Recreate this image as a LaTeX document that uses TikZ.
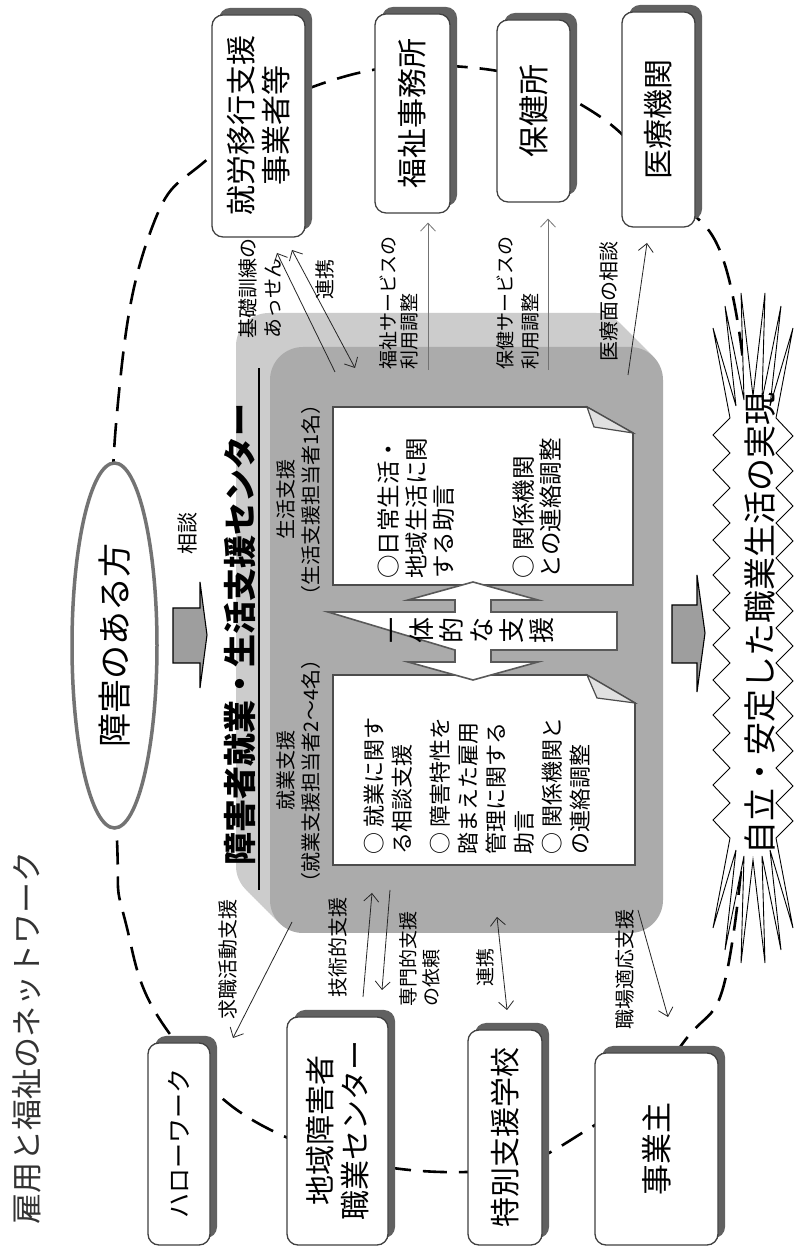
\documentclass[tikz,border=0pt]{standalone}
\usepackage{fontspec}
\setmainfont{Noto Sans CJK JP}
\usetikzlibrary{arrows.meta, shapes.geometric}

\tikzset{
  netbox/.style={draw=black!75, line width=1.3pt, fill=white, rounded corners=11pt, inner sep=0pt, align=center, font=\fontsize{30}{35}\selectfont},
  boxshade/.style={fill=black!62, rounded corners=11pt, inner sep=0pt},
  person/.style={ellipse, draw=black!55, line width=3.5pt, fill=white, inner sep=0pt, font=\fontsize{34}{34}\selectfont},
  ring/.style={line width=2.6pt, dash pattern=on 24pt off 12pt},
  face/.style={fill=black!33, rounded corners=33pt, inner sep=0pt},
  docbox/.style={draw=black!70, line width=1.6pt, fill=white},
  docflap/.style={draw=black!70, line width=1.2pt, fill=black!12},
  doctext/.style={inner sep=0pt, align=left},
  twinarrow/.style={draw=black!65, line width=1.6pt, fill=white},
  bigarrow/.style={draw=black, line width=1.1pt, fill=black!38},
  burst/.style={draw=black, line width=0.9pt, fill=white},
  link/.style={line width=0.8pt, draw=black!85, -{Straight Barb[length=8pt,width=15pt]}},
  twolink/.style={line width=0.8pt, draw=black!85, {Straight Barb[length=8pt,width=15pt]}-{Straight Barb[length=8pt,width=15pt]}},
  lbl/.style={inner sep=0pt, align=left, font=\fontsize{20}{25}\selectfont},
}

% box with drop shadow: [extra] name, position, width, height, text
\newcommand{\shadebox}[6][]{%
  \node[boxshade, minimum width=#4, minimum height=#5] at ([shift={(7,-7)}]#3) {};
  \node[netbox, minimum width=#4, minimum height=#5, #1] (#2) at (#3) {#6};
}

\begin{document}
\begin{tikzpicture}[x=1pt, y=1pt]
\fill[white] (0,0) rectangle (794,1247);
\begin{scope}[rotate=90, transform shape]
% ネットワークの輪
\draw[ring] plot[smooth cycle, tension=0.75] coordinates {(407,-117) (620,-113) (834,-117) (1014,-150) (1090,-210) (1162,-318) (1180,-465) (1140,-585) (1060,-665) (950,-733) (647,-750) (310,-733) (204,-683) (122,-595) (75,-467) (114,-277) (217,-167) (327,-125)};
\node[inner sep=0pt, text=black!80, font=\fontsize{31}{31}\selectfont] (nettitle) at (209,-27) {雇用と福祉のネットワーク};

% センター本体
\foreach \k in {17,...,1}
  \fill[black!20, rounded corners=33pt] (314+2*\k,-663+2*\k) rectangle (900+2*\k,-270+2*\k);
\node[face, minimum width=586pt, minimum height=393pt] (hub) at (607,-466.5) {};
\node[inner sep=0pt, font=\bfseries\fontsize{33}{33}\selectfont] (hubname) at (612,-240) {障害者就業・生活支援センター};
\draw[line width=2.6pt] (357,-259) -- (879,-259);
\node[lbl, align=center] (shugyolbl) at (476,-298.5) {就業支援\\（就業支援担当者2～4名）};
\node[lbl, align=center] (seikatsulbl) at (747,-298.5) {生活支援\\（生活支援担当者1名）};

% 就業支援
\draw[docbox] (382,-333) -- (572,-333) -- (572,-587) -- (544,-635) -- (382,-635) -- cycle;
\filldraw[docflap] (572,-587) -- (549,-597) -- (544,-635) -- cycle;
\node[doctext, anchor=north west, font=\fontsize{22}{28}\selectfont] (shugyo) at (392,-364) {○ 就業に関す\\る相談支援\\[10pt]○ 障害特性を\\踏まえた雇用\\管理に関する\\助言\\○ 関係機関と\\の連絡調整};
% 生活支援
\draw[docbox] (662,-333) -- (840,-333) -- (840,-587) -- (814,-633) -- (662,-633) -- cycle;
\filldraw[docflap] (840,-587) -- (820,-594) -- (814,-633) -- cycle;
\node[doctext, anchor=north west, font=\fontsize{23.5}{27.5}\selectfont] (seikatsu) at (668,-378) {○日常生活・\\地域生活に関\\する助言\\[52pt]○ 関係機関\\との連絡調整};

% 一体的な支援
\draw[twinarrow] (635,-328) -- (635,-455) -- (647,-455) -- (647,-408) -- (665,-473) -- (647,-538) -- (647,-491) -- (635,-491) -- (635,-617) -- (597,-617) -- (597,-491) -- (585,-491) -- (585,-538) -- (567,-473) -- (585,-408) -- (585,-455) -- (597,-455) -- cycle;
\node[inner sep=0pt, align=center, font=\fontsize{26}{30}\selectfont] (ittai) at (616,-472) {一\\体\\的\\な\\支\\援};

% 障害のある方
\node[person, minimum width=365pt, minimum height=85pt] (person) at (601.5,-114.5) {障害のある方};
\draw[bigarrow] (584,-173) -- (639,-173) -- (639,-200) -- (665,-200) -- (612,-207) -- (559,-200) -- (584,-200) -- cycle;
\node[lbl, font=\fontsize{21}{21}\selectfont] (sodan) at (713,-188) {相談};

% 周りの機関
\shadebox{shuro}{1121,-258.5}{222pt}{93pt}{就労移行支援\\事業者等}
\shadebox{fukushi}{1133.5,-412.5}{199pt}{75pt}{福祉事務所}
\shadebox[font=\fontsize{31}{31}\selectfont]{hoken}{1136,-533.5}{182pt}{73pt}{保健所}
\shadebox{iryo}{1127.5,-658.5}{215pt}{73pt}{医療機関}
\shadebox[font=\fontsize{25}{25}\selectfont]{hello}{103,-179}{202pt}{62pt}{ハローワーク}
\shadebox{chiiki}{116,-337.5}{228pt}{101pt}{地域障害者\\職業センター}
\shadebox{tokubetsu}{109.5,-505}{215pt}{74pt}{特別支援学校}
\shadebox[font=\fontsize{31}{31}\selectfont]{jigyo}{98,-656.5}{192pt}{123pt}{事業主}

% 矢印の端
\coordinate (a1) at (875,-335);  \coordinate (a2) at (994,-277);
\coordinate (a3) at (997,-292);  \coordinate (a4) at (879,-355);
\coordinate (b1) at (877,-428);  \coordinate (c1) at (877,-548);
\coordinate (d1) at (872,-628);  \coordinate (d2) at (1004,-647);
\coordinate (e1) at (325,-292);  \coordinate (e2) at (209,-233);
\coordinate (f1) at (250,-363);  \coordinate (f2) at (354,-372);
\coordinate (f3) at (357,-390);  \coordinate (f4) at (257,-382);
\coordinate (g1) at (330,-497);  \coordinate (g2) at (237,-507);
\coordinate (h1) at (337,-638);  \coordinate (h2) at (230,-668);

\draw[link] (a1) -- (a2);
\draw[twolink] (a3) -- (a4);
\draw[link, draw=black!55, shorten >=9pt] (b1) -- (b1 -| fukushi.west);
\draw[link, draw=black!55, shorten >=16pt] (c1) -- (c1 -| hoken.west);
\draw[link] (d1) -- (d2);
\draw[link] (e1) -- (e2);
\draw[link] (f1) -- (f2);
\draw[link] (f3) -- (f4);
\draw[twolink] (g1) -- (g2);
\draw[link] (h1) -- (h2);

\node[lbl, anchor=west] (kiso) at (908,-260.5) {基礎訓練の\\あっせん};
\node[lbl] (renkei1) at (967,-325) {連携};
\node[lbl, anchor=west, font=\fontsize{19}{21}\selectfont] (fukushilbl) at (877,-398.5) {福祉サービスの\\利用調整};
\node[lbl, anchor=west, font=\fontsize{19}{25}\selectfont] (hokenlbl) at (877,-517.5) {保健サービスの\\利用調整};
\node[lbl, anchor=west] (iryolbl) at (885,-609) {医療面の相談};
\node[lbl] (kyushoku) at (287,-228) {求職活動支援};
\node[lbl] (gijutsu) at (299,-338) {技術的支援};
\node[lbl, anchor=west, font=\fontsize{19}{23}\selectfont] (senmon) at (240,-419.5) {専門的支援\\の依頼};
\node[lbl, font=\fontsize{19}{19}\selectfont] (renkei2) at (279,-485) {連携};
\node[lbl] (shokuba) at (277,-625) {職場適応支援};

% 職業生活の実現
\draw[bigarrow] (584,-672) -- (642,-672) -- (642,-697) -- (672,-697) -- (614,-705) -- (555,-697) -- (584,-697) -- cycle;
\begin{scope}[shift={(619,-753)}]
\draw[burst] (-210,23)
  \foreach \i in {0,...,11} { -- ({-192+35*\i},40) -- ({-175+35*\i},23) }
  -- (300,40) -- (222,17) -- (322,28) -- (228,9) -- (335,12) -- (232,0) -- (335,-12) -- (228,-9) -- (322,-28) -- (222,-17) -- (300,-40) -- (210,-23)
  \foreach \i in {0,...,11} { -- ({192-35*\i},-40) -- ({175-35*\i},-23) }
  -- (-300,-40) -- (-222,-17) -- (-322,-28) -- (-228,-9) -- (-335,-12) -- (-232,0) -- (-335,12) -- (-228,9) -- (-322,28) -- (-222,17) -- (-300,40) -- cycle;
\node[inner sep=0pt, font=\fontsize{33}{33}\selectfont] (goal) at (4,-7) {自立・安定した職業生活の実現};
\end{scope}
\end{scope}
\end{tikzpicture}
\end{document}
